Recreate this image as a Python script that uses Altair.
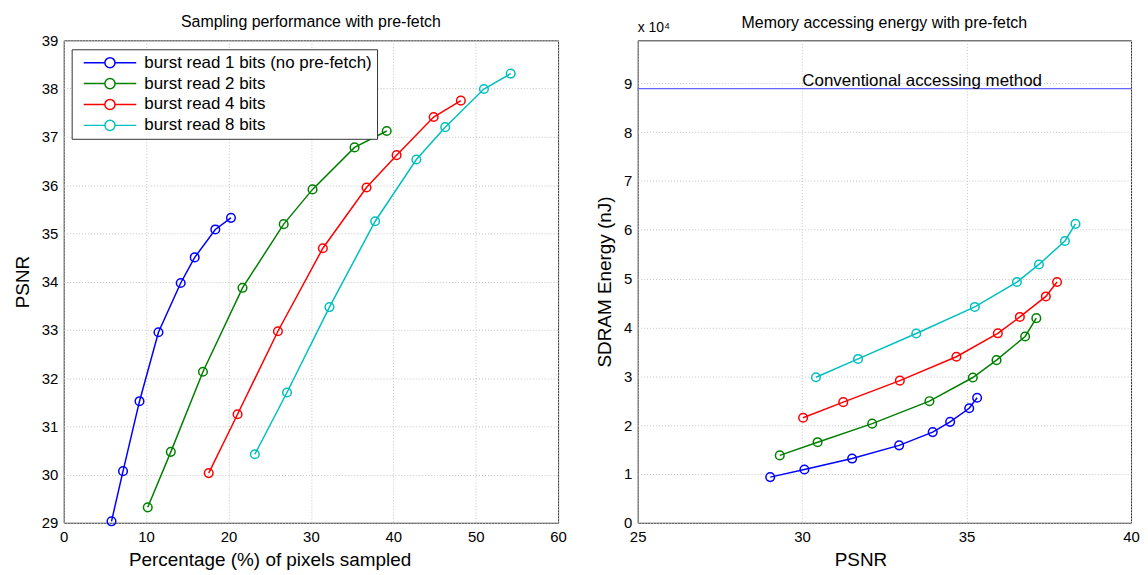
import altair as alt
import pandas as pd

series = ["burst read 1 bits (no pre-fetch)", "burst read 2 bits",
          "burst read 4 bits", "burst read 8 bits"]
colors = ["#0000ff", "#008000", "#ff0000", "#00bfbf"]

# Percentage (%) of pixels sampled
pct_1 = [5.8, 7.2, 9.2, 11.5, 14.2, 15.9, 18.4, 20.3]
pct_2 = [10.2, 13.0, 16.9, 21.7, 26.7, 30.2, 35.3, 39.2]
pct_4 = [17.6, 21.1, 26.0, 31.45, 36.75, 40.4, 44.9, 48.2]
pct_8 = [23.2, 27.1, 32.25, 37.8, 42.8, 46.3, 51.0, 54.25]

# PSNR
psnr_1 = [29.03, 30.07, 31.52, 32.95, 33.97, 34.50, 35.08, 35.32]
psnr_2 = [29.32, 30.47, 32.13, 33.87, 35.19, 35.91, 36.78, 37.12]
psnr_4 = [30.03, 31.25, 32.97, 34.69, 35.95, 36.62, 37.41, 37.75]
psnr_8 = [30.42, 31.70, 33.47, 35.25, 36.53, 37.20, 37.99, 38.31]

# SDRAM energy (nJ)
energy_1 = [9350, 10900, 13150, 15850, 18570, 20670, 23450, 25600]
energy_2 = [13800, 16500, 20300, 24900, 29750, 33300, 38150, 41900]
energy_4 = [21500, 24700, 29100, 34000, 38800, 42150, 46350, 49300]
energy_8 = [29800, 33550, 38750, 44200, 49300, 52900, 57700, 61200]

conventional_energy = [88900]

x_ticks_left = [0, 10, 20, 30, 40, 50, 60]
y_ticks_left = list(range(29, 40))
x_ticks_right = [25, 30, 35, 40]
y_ticks_right = [0, 10000, 20000, 30000, 40000, 50000, 60000, 70000, 80000, 90000]

rows = []
for name, p, q, e in zip(series, [pct_1, pct_2, pct_4, pct_8],
                         [psnr_1, psnr_2, psnr_4, psnr_8],
                         [energy_1, energy_2, energy_4, energy_8]):
    for i, (a, b, c) in enumerate(zip(p, q, e)):
        rows.append({"series": name, "idx": i, "pct": a, "psnr": b, "energy": c})
df = pd.DataFrame(rows)
conv_df = pd.DataFrame({"energy": conventional_energy,
                        "label": ["Conventional accessing method"]})

FONT = "Liberation Sans"
sym_path = ("M-4.4,0L-0.85,0M0.85,0L4.4,0"
            "M-0.85,0A0.85,0.85,0,1,0,0.85,0A0.85,0.85,0,1,0,-0.85,0")

color_left = alt.Color(
    "series:N",
    scale=alt.Scale(domain=series, range=colors),
    legend=alt.Legend(
        title=None, orient="none", legendX=8, legendY=9,
        symbolType=sym_path, symbolSize=144, symbolStrokeWidth=1.5,
        symbolFillColor="transparent", symbolOffset=25,
        labelOffset=26, labelFontSize=17, labelFont=FONT, labelColor="black",
        padding=5, rowPadding=3, strokeColor="#333333", fillColor="white",
        cornerRadius=0, labelLimit=400,
    ),
)

x_axis_common = dict(labelPadding=7, titlePadding=6, labelFlush=False)
y_axis_common = dict(labelPadding=6, titlePadding=9, labelFlush=False)

base_l = alt.Chart(df).encode(
    x=alt.X("pct:Q", scale=alt.Scale(domain=[0, 60], nice=False),
            axis=alt.Axis(values=x_ticks_left, title="Percentage (%) of pixels sampled",
                          titleX=207, titleAnchor="start", titleAlign="center",
                          **x_axis_common)),
    y=alt.Y("psnr:Q", scale=alt.Scale(domain=[29, 39], nice=False, zero=False),
            axis=alt.Axis(values=y_ticks_left, title="PSNR", **y_axis_common)),
    color=color_left,
    order="idx:Q",
)
left = alt.layer(
    base_l.mark_line(strokeWidth=1.5),
    base_l.mark_point(filled=False, size=75, strokeWidth=1.5, opacity=1),
).properties(width=497, height=485,
             title=alt.TitleParams("Sampling performance with pre-fetch", offset=3))

base_r = alt.Chart(df).encode(
    x=alt.X("psnr:Q", scale=alt.Scale(domain=[25, 40], nice=False, zero=False),
            axis=alt.Axis(values=x_ticks_right, title="PSNR",
                          titleX=224, titleAnchor="start", titleAlign="center",
                          **x_axis_common)),
    y=alt.Y("energy:Q", scale=alt.Scale(domain=[0, 98800], nice=False),
            axis=alt.Axis(values=y_ticks_right, title="SDRAM Energy (nJ)",
                          labelExpr="datum.value / 10000", **y_axis_common)),
    color=alt.Color("series:N", scale=alt.Scale(domain=series, range=colors), legend=None),
    order="idx:Q",
)
conv_rule = alt.Chart(conv_df).mark_rule(color="#6464ff", strokeWidth=1.3).encode(
    y="energy:Q")
conv_text = alt.Chart(conv_df).mark_text(
    font=FONT, fontSize=17, baseline="alphabetic", align="center", dy=-3, color="black"
).encode(x=alt.datum(33.65), y="energy:Q", text="label:N")
exp_text = alt.Chart(conv_df).mark_text(
    font=FONT, fontSize=14, baseline="alphabetic", align="left", color="black"
).encode(x=alt.value(0), y=alt.value(-8), text=alt.value("x 10\u2074"))

right = alt.layer(
    conv_rule,
    base_r.mark_line(strokeWidth=1.5),
    base_r.mark_point(filled=False, size=75, strokeWidth=1.5, opacity=1),
    conv_text,
    exp_text,
).properties(width=496, height=485,
             title=alt.TitleParams("Memory accessing energy with pre-fetch", offset=-10))

chart = alt.hconcat(left, right, spacing=28).resolve_scale(
    color="independent").resolve_legend(color="independent").properties(
    padding={"left": 4, "top": 4, "right": 0, "bottom": 0}
).configure(font=FONT).configure_view(
    stroke="#333333", strokeWidth=1
).configure_axis(
    domain=False, ticks=False, labelFont=FONT, labelFontSize=15, labelColor="black",
    titleFont=FONT, titleFontSize=19, titleFontWeight="normal",
    titleColor="black", grid=True, gridColor="#c4c4c4",
    gridDash=[1, 2], gridWidth=1,
).configure_title(
    font=FONT, fontSize=16, fontWeight="normal", color="black", anchor="middle"
)

chart.save("out.html", embed_options={"renderer": "svg", "actions": False})
